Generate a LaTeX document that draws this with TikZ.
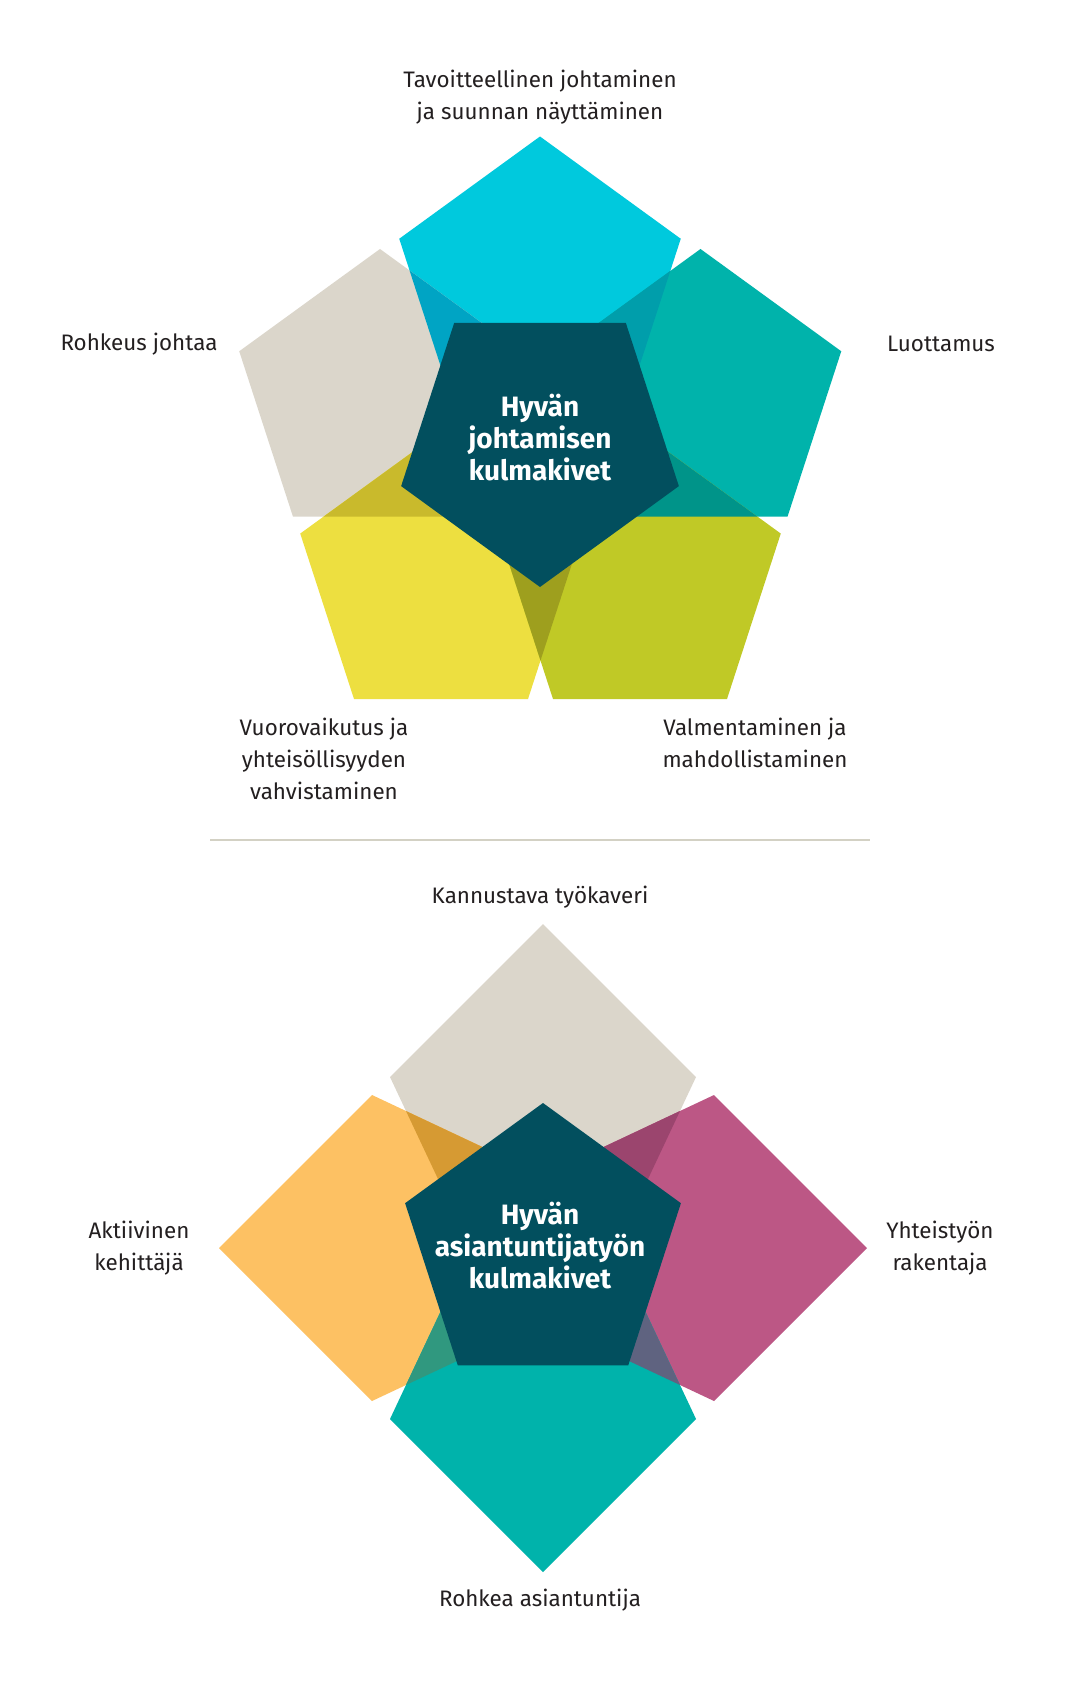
\documentclass[tikz,border=0pt]{standalone}
\usepackage{fontspec}
\setmainfont{Fira Sans}
\definecolor{cCyan}{HTML}{00C9DD}
\definecolor{cBeige}{HTML}{DBD6CB}
\definecolor{cTeal}{HTML}{00B3AB}
\definecolor{cYellow}{HTML}{EDDF40}
\definecolor{cLime}{HTML}{C0C926}
\definecolor{cDark}{HTML}{024F5E}
\definecolor{cOrange}{HTML}{FDC163}
\definecolor{cMagenta}{HTML}{BC5785}
\definecolor{oCyanBeige}{HTML}{00A4C4}
\definecolor{oCyanTeal}{HTML}{009EAB}
\definecolor{oBeigeYellow}{HTML}{C9BA2C}
\definecolor{oYellowLime}{HTML}{9E9F1E}
\definecolor{oTealLime}{HTML}{009489}
\definecolor{oBeigeOrange}{HTML}{D69A33}
\definecolor{oBeigeMagenta}{HTML}{9B456E}
\definecolor{oOrangeTeal}{HTML}{30987F}
\definecolor{oMagentaTeal}{HTML}{5F6380}
\definecolor{cText}{HTML}{231F20}
\definecolor{cSep}{HTML}{D3D1C4}
\begin{document}
\begin{tikzpicture}[x=0.5pt,y=-0.5pt,
  pentup/.style n args={3}{insert path={({#1+#3*cos(90)},{#2-#3*sin(90)}) -- ({#1+#3*cos(162)},{#2-#3*sin(162)}) -- ({#1+#3*cos(234)},{#2-#3*sin(234)}) -- ({#1+#3*cos(306)},{#2-#3*sin(306)}) -- ({#1+#3*cos(18)},{#2-#3*sin(18)}) -- cycle}},
  pentdown/.style n args={3}{insert path={({#1+#3*cos(270)},{#2-#3*sin(270)}) -- ({#1+#3*cos(342)},{#2-#3*sin(342)}) -- ({#1+#3*cos(54)},{#2-#3*sin(54)}) -- ({#1+#3*cos(126)},{#2-#3*sin(126)}) -- ({#1+#3*cos(198)},{#2-#3*sin(198)}) -- cycle}},
  petal/.style n args={3}{insert path={({#1+324*cos(#3)},{#2+324*sin(#3)}) -- ({#1+171*cos(#3)-153*sin(#3)},{#2+171*sin(#3)+153*cos(#3)}) -- ({#1-72.5*sin(#3)},{#2+72.5*cos(#3)}) -- ({#1+72.5*sin(#3)},{#2-72.5*cos(#3)}) -- ({#1+171*cos(#3)+153*sin(#3)},{#2+171*sin(#3)-153*cos(#3)}) -- cycle}},
  lbl/.style={font=\fontsize{11.2}{16}\selectfont, text=cText, align=center, inner sep=0pt},
  ctr/.style={font=\fontsize{14}{16}\selectfont\bfseries, text=white, align=center, inner sep=0pt}
]
\useasboundingbox (0,0) rectangle (1090,1690);
\fill[white] (0,0) rectangle (1090,1690);

% ---------- top: leadership ----------
\fill[cCyan]   [pentup={540}{284.5}{148}];
\fill[cBeige]  [pentup={380}{397}{148}];
\fill[cTeal]   [pentup={700.5}{397}{148}];
\fill[cYellow] [pentup={441}{579.3}{148}];
\fill[cLime]   [pentup={640}{579.3}{148}];
\begin{scope}\clip[pentup={540}{284.5}{148}];\fill[oCyanBeige][pentup={380}{397}{148}];\end{scope}
\begin{scope}\clip[pentup={540}{284.5}{148}];\fill[oCyanTeal][pentup={700.5}{397}{148}];\end{scope}
\begin{scope}\clip[pentup={380}{397}{148}];\fill[oBeigeYellow][pentup={441}{579.3}{148}];\end{scope}
\begin{scope}\clip[pentup={441}{579.3}{148}];\fill[oYellowLime][pentup={640}{579.3}{148}];\end{scope}
\begin{scope}\clip[pentup={700.5}{397}{148}];\fill[oTealLime][pentup={640}{579.3}{148}];\end{scope}
\fill[cDark] [pentdown={540}{441}{146}];

\node[ctr] (core1) at (540,438) {Hyvän\\johtamisen\\kulmakivet};
\node[lbl] (goal) at (540,97.5) {Tavoitteellinen johtaminen\\ja suunnan näyttäminen};
\node[lbl] (courage) at (139,344) {Rohkeus johtaa};
\node[lbl] (trust) at (941,344) {Luottamus};
\node[lbl] (interact) at (324,759) {Vuorovaikutus ja\\yhteisöllisyyden\\vahvistaminen};
\node[lbl] (coach) at (755,743) {Valmentaminen ja\\mahdollistaminen};

% ---------- separator ----------
\coordinate (sepL) at (210,840);
\coordinate (sepR) at (870,840);
\draw[cSep, line width=1pt] (sepL) -- (sepR);

% ---------- bottom: expert work ----------
\fill[cBeige]   [petal={543}{1248}{-90}];
\fill[cOrange]  [petal={543}{1248}{180}];
\fill[cMagenta] [petal={543}{1248}{0}];
\fill[cTeal]    [petal={543}{1248}{90}];
\begin{scope}\clip[petal={543}{1248}{-90}];\fill[oBeigeOrange][petal={543}{1248}{180}];\end{scope}
\begin{scope}\clip[petal={543}{1248}{-90}];\fill[oBeigeMagenta][petal={543}{1248}{0}];\end{scope}
\begin{scope}\clip[petal={543}{1248}{90}];\fill[oOrangeTeal][petal={543}{1248}{180}];\end{scope}
\begin{scope}\clip[petal={543}{1248}{90}];\fill[oMagentaTeal][petal={543}{1248}{0}];\end{scope}
\fill[cDark] [pentup={543}{1248}{145}];

\node[ctr] (core2) at (540,1246) {Hyvän\\asiantuntijatyön\\kulmakivet};
\node[lbl] (encour) at (540,897) {Kannustava työkaveri};
\node[lbl] (active) at (139,1248) {Aktiivinen\\kehittäjä};
\node[lbl] (builder) at (940,1248) {Yhteistyön\\rakentaja};
\node[lbl] (brave) at (540,1600) {Rohkea asiantuntija};
\end{tikzpicture}
\end{document}
